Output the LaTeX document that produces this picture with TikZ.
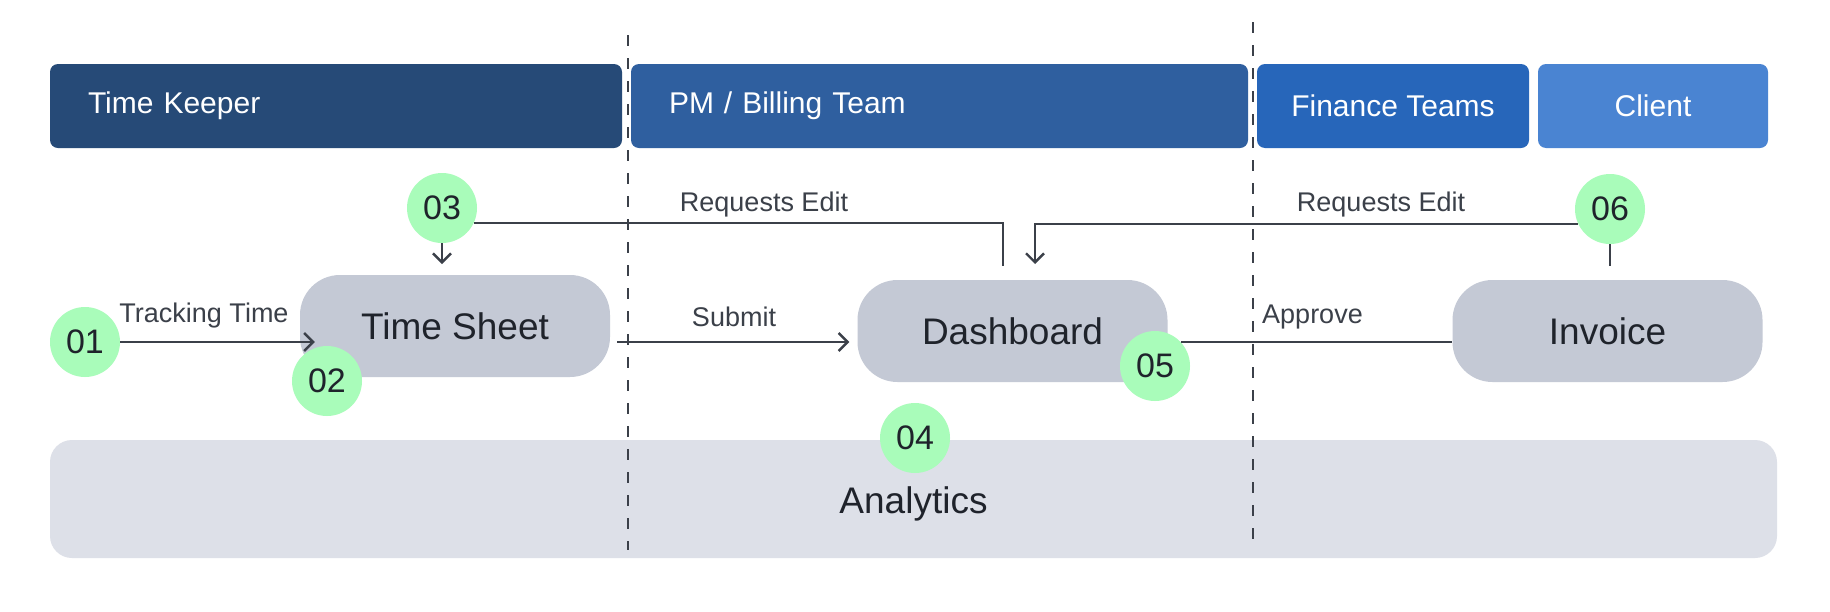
\documentclass[tikz,border=0pt]{standalone}
\usepackage{fontspec}
\setmainfont{Liberation Sans}
\usetikzlibrary{arrows.meta}

\definecolor{keeper}{HTML}{264A77}
\definecolor{billing}{HTML}{2F5F9F}
\definecolor{finance}{HTML}{2766BA}
\definecolor{client}{HTML}{4A84D2}
\definecolor{boxgray}{HTML}{C4C9D5}
\definecolor{anagray}{HTML}{DDE0E8}
\definecolor{stepgreen}{HTML}{A9FCBA}
\definecolor{linegray}{HTML}{3B4049}
\definecolor{ink}{HTML}{1F232B}

\tikzset{
  lane/.style={fill=#1, rounded corners=8pt, text=white, minimum height=84pt,
    inner sep=0pt, font=\fontsize{30}{34}\selectfont},
  stage/.style={fill=boxgray, rounded corners=40pt, minimum width=310pt,
    minimum height=102pt, text=ink, font=\fontsize{37}{40}\selectfont},
  num/.style={circle, fill=stepgreen, minimum size=70pt, inner sep=0pt,
    text=ink, font=\fontsize{34}{36}\selectfont},
  flow/.style={draw=linegray, line width=2.4pt},
  arr/.style={-{Straight Barb[length=9pt,width=18pt]}},
  lbl/.style={text=linegray, inner sep=0pt, font=\fontsize{27}{30}\selectfont},
  lanesep/.style={draw=linegray, line width=2pt, dash pattern=on 11pt off 12pt},
}

\begin{document}
\begin{tikzpicture}[x=1pt, y=-1pt]
\useasboundingbox (0,0) rectangle (1830,611);
\fill[white] (0,0) rectangle (1830,611);

% lanes
\node[lane=keeper, minimum width=572pt, text width=496pt, align=left, inner xsep=38pt] (keeper) at (336,106) {Time Keeper};
\node[lane=billing, minimum width=617pt, text width=541pt, align=left, inner xsep=38pt] (billing) at (939.5,106) {PM / Billing Team};
\node[lane=finance, minimum width=272pt] (finance) at (1393,106) {Finance Teams};
\node[lane=client, minimum width=230pt] (client) at (1653,106) {Client};

% boxes
\node[fill=anagray, rounded corners=22pt, minimum width=1727pt, minimum height=118pt] (ana) at (913.5,499) {};
\node[text=ink, font=\fontsize{37}{40}\selectfont] (anatext) at (913.5,504) {Analytics};
\node[stage] (ts) at (455,326) {Time Sheet};
\node[stage] (db) at (1012.5,331) {Dashboard};
\node[stage] (iv) at (1607.5,331) {Invoice};

% lane separators
\draw[lanesep] (628,35) -- (628,550);
\draw[lanesep] (1253,22) -- (1253,540);

% steps
\node[num] (c01) at (85,342) {01};
\node[num] (c02) at (327,381) {02};
\node[num] (c03) at (442,208) {03};
\node[num] (c04) at (915,438) {04};
\node[num] (c05) at (1155,366) {05};
\node[num] (c06) at (1610,209) {06};

\coordinate (dropL) at (1003,266);
\coordinate (dropR) at (1035,264);

% connectors
\draw[flow, arr, shorten >=-15pt] (c01.east) -- (c01.east -| ts.west);
\draw[flow, arr, shorten <=7pt, shorten >=8pt] (ts.east |- c01) -- (db.west |- c01);
\draw[flow] (c05.43) -- (iv.west |- c05.43);
\draw[flow] (c03.-25) -| (dropL);
\draw[flow, arr] (c06.205) -| (dropR);
\draw[flow, arr] (c03.south) -- (c03.south |- dropR);
\draw[flow] (c06.south) -- (c06.south |- dropL);

% labels
\node[lbl] (trk) at (204,316) {Tracking Time};
\node[lbl] (sub) at (734,317) {Submit};
\node[lbl, anchor=west] (app) at (1262,317) {Approve};
\node[lbl] (reqA) at (764,205) {Requests Edit};
\node[lbl] (reqB) at (1381,205) {Requests Edit};
\end{tikzpicture}
\end{document}
